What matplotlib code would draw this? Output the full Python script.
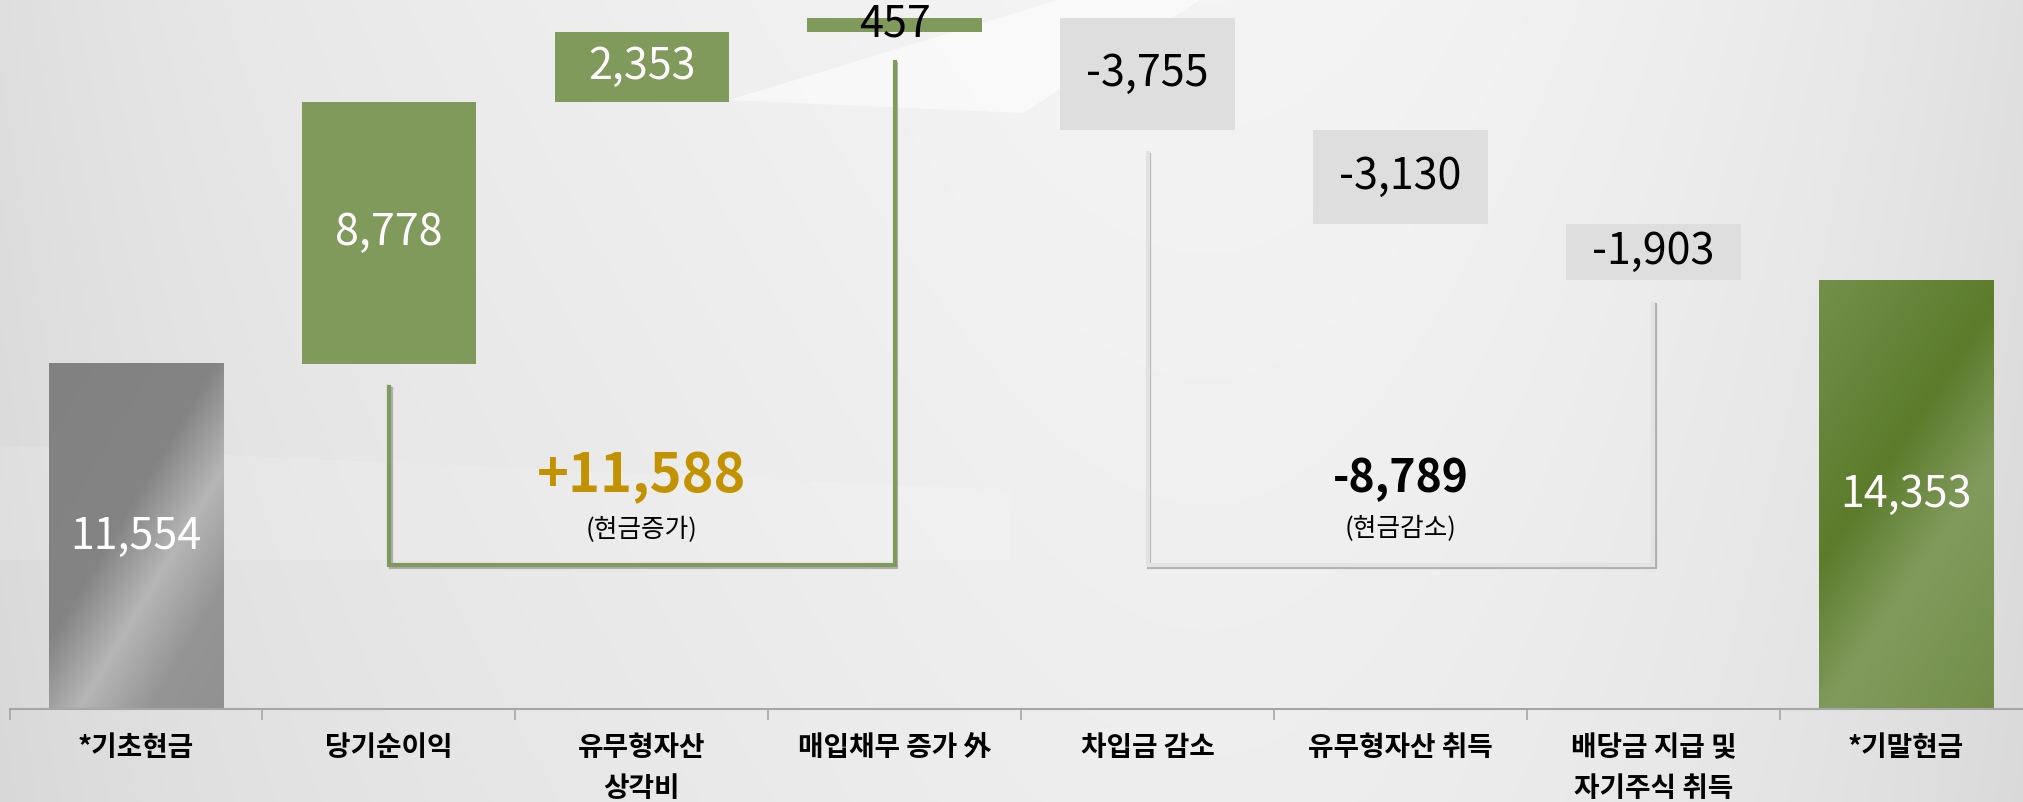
import numpy as np
import matplotlib.pyplot as plt
from matplotlib.patches import Polygon
import matplotlib.patheffects as pe

plt.rcParams['font.family'] = ['Noto Sans CJK KR', 'DejaVu Sans']

# 현금흐름 워터폴 데이터 (단위: 억원)
categories = ['*기초현금', '당기순이익', '유무형자산\n상각비', '매입채무 증가 外',
              '차입금 감소', '유무형자산 취득', '배당금 지급 및\n자기주식 취득', '*기말현금']
changes = [11554, 8778, 2353, 457, -3755, -3130, -1903, 14353]
value_labels = ['11,554', '8,778', '2,353', '457', '-3,755', '-3,130', '-1,903', '14,353']
increase_total = '+11,588'
decrease_total = '-8,789'
increase_note = '(현금증가)'
decrease_note = '(현금감소)'

GREEN = '#7f9a5a'
GREY_BOX = '#dedede'
AXIS_GREY = '#a6a6a6'
GOLD = '#c29200'

W, H = 2023, 802
fig = plt.figure(figsize=(W / 100, H / 100), dpi=100)

# 배경 그라데이션
bg = fig.add_axes([0, 0, 1, 1], zorder=-5)
xx, yy = np.meshgrid(np.linspace(0, 1, W), np.linspace(0, 1, H))
lum = (0.922
       + 0.035 * np.exp(-((xx - 0.6) / 0.3) ** 2)
       - 0.05 * ((xx - 0.5) * 2) ** 4
       - 0.025 * yy)
bg.imshow(np.dstack([lum] * 3).clip(0, 1), extent=(0, 1, 1, 0), aspect='auto')
# 밝은 사선 무늬
bg.add_patch(Polygon([(729 / W, 100 / H), (1058 / W, 0), (1200 / W, 0), (1023 / W, 113 / H)],
                     closed=True, facecolor='white', edgecolor='none', alpha=0.55))
bg.add_patch(Polygon([(0, 445 / H), (1011 / W, 490 / H), (1011 / W, 560 / H), (0, 560 / H)],
                     closed=True, facecolor='white', edgecolor='none', alpha=0.12))
bg.set_xlim(0, 1)
bg.set_ylim(1, 0)
bg.axis('off')

ax = fig.add_axes([9.6 / W, 93 / H, 2023 / W, 709 / H])
ax.set_facecolor('none')
ax.set_xlim(-0.5, 7.5)
ax.set_ylim(0, 23744)

bar_w = 0.69
n = len(changes)
bottoms, heights = [], []
running = 0
for i, v in enumerate(changes):
    if i == 0 or i == n - 1:
        bottoms.append(0)
        heights.append(v)
        running = v
    elif v >= 0:
        bottoms.append(running)
        heights.append(v)
        running += v
    else:
        running += v
        bottoms.append(running)
        heights.append(-v)

px_per_x = ax.transData.transform((1, 0))[0] - ax.transData.transform((0, 0))[0]
px_per_y = ax.transData.transform((0, 1000))[1] - ax.transData.transform((0, 0))[1]
px_per_y /= 1000


def gradient_bar(i, stops, slope):
    # 사선 방향 광택 그라데이션
    wpx = bar_w * px_per_x
    hpx = heights[i] * px_per_y
    gx, gy = np.meshgrid(np.linspace(0, wpx, 200), np.linspace(0, hpx, 400))
    s = gx - slope * gy
    pos = [p for p, c in stops]
    rgb = np.dstack([np.interp(s, pos, [c[k] for p, c in stops]) for k in range(3)])
    ax.imshow(rgb, extent=(i - bar_w / 2, i + bar_w / 2, bottoms[i], bottoms[i] + heights[i]),
              origin='lower', aspect='auto', zorder=2, interpolation='bilinear')


def hexrgb(h):
    return tuple(int(h[k:k + 2], 16) / 255 for k in (1, 3, 5))


grey_stops = [(-400, hexrgb('#7e7e7e')), (-40, hexrgb('#848484')), (30, hexrgb('#b6b6b6')),
              (100, hexrgb('#959595')), (400, hexrgb('#868686'))]
green_stops = [(-400, hexrgb('#819c5e')), (-96, hexrgb('#5c7c2b')), (8, hexrgb('#819b5d')),
               (400, hexrgb('#5c7c2b'))]

for i in range(n):
    if i == 0:
        gradient_bar(i, grey_stops, 0.6)
    elif i == n - 1:
        gradient_bar(i, green_stops, 0.67)
    else:
        color = GREEN if changes[i] > 0 else GREY_BOX
        ax.bar(i, heights[i], bottom=bottoms[i], width=bar_w, color=color, zorder=2)

    tc = 'white' if i in (0, 1, 2, n - 1) else 'black'
    ax.text(i, bottoms[i] + heights[i] / 2, value_labels[i], ha='center', va='center',
            fontsize=31, fontweight='medium', color=tc, zorder=4)

# 증가/감소 구간 브래킷
floor = 4820
gap = 780
shadow = [pe.SimpleLineShadow(offset=(1.2, -1.2), alpha=0.25), pe.Normal()]
ax.plot([1, 1, 3, 3], [bottoms[1] - gap, floor, floor, bottoms[3] - gap - 250],
        color=GREEN, lw=3, solid_joinstyle='miter', zorder=1, path_effects=shadow)
ax.plot([4, 4, 6, 6], [bottoms[4] - gap, floor, floor, bottoms[6] - gap],
        color='#e2e2e2', lw=3, solid_joinstyle='miter', zorder=1, path_effects=shadow)

ax.text(2, 7770, increase_total, ha='center', va='center', fontsize=39,
        fontweight='bold', color=GOLD)
ax.text(2, 5995, increase_note, ha='center', va='center', fontsize=18.5, color='black')
ax.text(5, 7703, decrease_total, ha='center', va='center', fontsize=32,
        fontweight='bold', color='black')
ax.text(5, 6028, decrease_note, ha='center', va='center', fontsize=18.5, color='black')

# 축
for side in ('top', 'right', 'left'):
    ax.spines[side].set_visible(False)
ax.spines['bottom'].set_color(AXIS_GREY)
ax.spines['bottom'].set_linewidth(1.5)
ax.set_yticks([])
ax.set_xticks(range(n))
ax.set_xticklabels(categories, fontsize=20, fontweight='bold', linespacing=1.6)
ax.set_xticks(np.arange(-0.5, n, 1), minor=True)
ax.tick_params(axis='x', which='major', length=0, pad=18)
ax.tick_params(axis='x', which='minor', length=8, width=1.2, color=AXIS_GREY)

fig.savefig('out.png', dpi=100)
